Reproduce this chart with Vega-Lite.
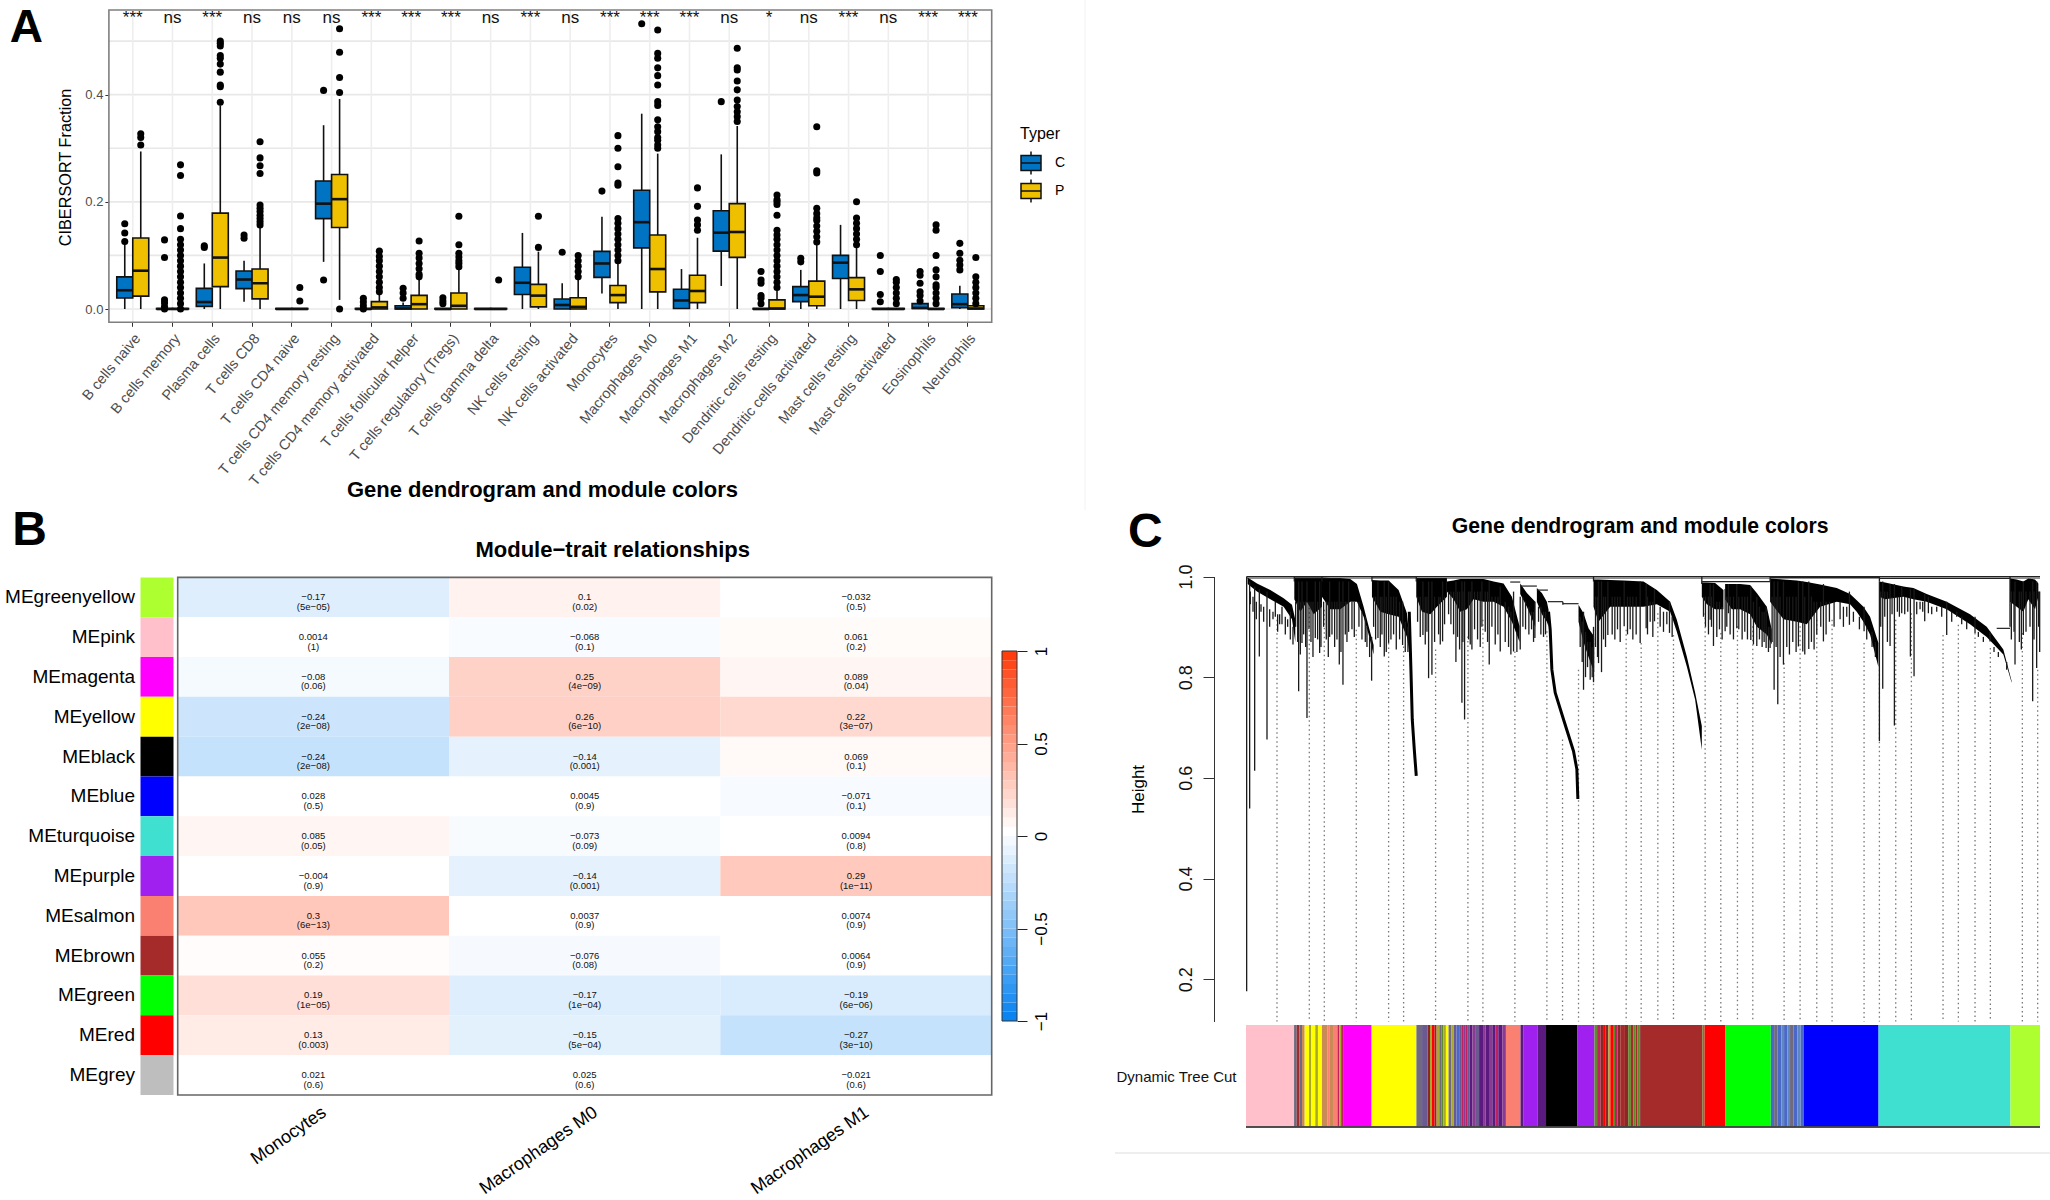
{"$schema":"https://vega.github.io/schema/vega-lite/v6.json","width":2050,"height":1200,"padding":0,"autosize":{"type":"none"},"background":"white","config":{"view":{"stroke":null},"font":"Liberation Sans","axis":{"grid":false}},
"datasets":{
"cells":[{"cell":"B cells naive","sig":"***"},{"cell":"B cells memory","sig":"ns"},{"cell":"Plasma cells","sig":"***"},{"cell":"T cells CD8","sig":"ns"},{"cell":"T cells CD4 naive","sig":"ns"},{"cell":"T cells CD4 memory resting","sig":"ns"},{"cell":"T cells CD4 memory activated","sig":"***"},{"cell":"T cells follicular helper","sig":"***"},{"cell":"T cells regulatory (Tregs)","sig":"***"},{"cell":"T cells gamma delta","sig":"ns"},{"cell":"NK cells resting","sig":"***"},{"cell":"NK cells activated","sig":"ns"},{"cell":"Monocytes","sig":"***"},{"cell":"Macrophages M0","sig":"***"},{"cell":"Macrophages M1","sig":"***"},{"cell":"Macrophages M2","sig":"ns"},{"cell":"Dendritic cells resting","sig":"*"},{"cell":"Dendritic cells activated","sig":"ns"},{"cell":"Mast cells resting","sig":"***"},{"cell":"Mast cells activated","sig":"ns"},{"cell":"Eosinophils","sig":"***"},{"cell":"Neutrophils","sig":"***"}],
"boxes":[
{"cell":"B cells naive","typer":"C","lo":0,"q1":0.0205,"med":0.035,"q3":0.06,"hi":0.1225},{"cell":"B cells naive","typer":"P","lo":0,"q1":0.024,"med":0.0715,"q3":0.1325,"hi":0.294},
{"cell":"B cells memory","typer":"C","lo":0,"q1":0,"med":0,"q3":0.001,"hi":0.001},{"cell":"B cells memory","typer":"P","lo":0,"q1":0,"med":0,"q3":0.001,"hi":0.001},
{"cell":"Plasma cells","typer":"C","lo":0,"q1":0.005,"med":0.013,"q3":0.0386,"hi":0.085},{"cell":"Plasma cells","typer":"P","lo":0,"q1":0.0417,"med":0.096,"q3":0.179,"hi":0.38},
{"cell":"T cells CD8","typer":"C","lo":0.0137,"q1":0.038,"med":0.055,"q3":0.071,"hi":0.09},{"cell":"T cells CD8","typer":"P","lo":0,"q1":0.019,"med":0.048,"q3":0.0746,"hi":0.154},
{"cell":"T cells CD4 naive","typer":"C","lo":0,"q1":0,"med":0,"q3":0.001,"hi":0.001},{"cell":"T cells CD4 naive","typer":"P","lo":0,"q1":0,"med":0,"q3":0.001,"hi":0.001},
{"cell":"T cells CD4 memory resting","typer":"C","lo":0.088,"q1":0.1686,"med":0.1966,"q3":0.239,"hi":0.343},{"cell":"T cells CD4 memory resting","typer":"P","lo":0.017,"q1":0.152,"med":0.205,"q3":0.251,"hi":0.392},
{"cell":"T cells CD4 memory activated","typer":"C","lo":0,"q1":0,"med":0,"q3":0.001,"hi":0.001},{"cell":"T cells CD4 memory activated","typer":"P","lo":0,"q1":0,"med":0.003,"q3":0.0137,"hi":0.029},
{"cell":"T cells follicular helper","typer":"C","lo":0,"q1":0,"med":0.001,"q3":0.006,"hi":0.012},{"cell":"T cells follicular helper","typer":"P","lo":0,"q1":0,"med":0.009,"q3":0.0255,"hi":0.057},
{"cell":"T cells regulatory (Tregs)","typer":"C","lo":0,"q1":0,"med":0,"q3":0.001,"hi":0.001},{"cell":"T cells regulatory (Tregs)","typer":"P","lo":0,"q1":0,"med":0.006,"q3":0.03,"hi":0.073},
{"cell":"T cells gamma delta","typer":"C","lo":0,"q1":0,"med":0,"q3":0.001,"hi":0.001},{"cell":"T cells gamma delta","typer":"P","lo":0,"q1":0,"med":0,"q3":0.001,"hi":0.001},
{"cell":"NK cells resting","typer":"C","lo":0,"q1":0.027,"med":0.049,"q3":0.078,"hi":0.142},{"cell":"NK cells resting","typer":"P","lo":0,"q1":0.004,"med":0.025,"q3":0.046,"hi":0.107},
{"cell":"NK cells activated","typer":"C","lo":0,"q1":0,"med":0.0075,"q3":0.0187,"hi":0.048},{"cell":"NK cells activated","typer":"P","lo":0,"q1":0,"med":0.004,"q3":0.021,"hi":0.054},
{"cell":"Monocytes","typer":"C","lo":0.029,"q1":0.059,"med":0.085,"q3":0.1076,"hi":0.172},{"cell":"Monocytes","typer":"P","lo":0,"q1":0.012,"med":0.026,"q3":0.044,"hi":0.085},
{"cell":"Macrophages M0","typer":"C","lo":0,"q1":0.114,"med":0.162,"q3":0.2215,"hi":0.3645},{"cell":"Macrophages M0","typer":"P","lo":0,"q1":0.032,"med":0.0746,"q3":0.138,"hi":0.29},
{"cell":"Macrophages M1","typer":"C","lo":0,"q1":0.001,"med":0.016,"q3":0.037,"hi":0.0746},{"cell":"Macrophages M1","typer":"P","lo":0,"q1":0.012,"med":0.0336,"q3":0.063,"hi":0.133},
{"cell":"Macrophages M2","typer":"C","lo":0.043,"q1":0.108,"med":0.1425,"q3":0.1835,"hi":0.2886},{"cell":"Macrophages M2","typer":"P","lo":0,"q1":0.0964,"med":0.1437,"q3":0.1966,"hi":0.3415},
{"cell":"Dendritic cells resting","typer":"C","lo":0,"q1":0,"med":0,"q3":0.001,"hi":0.001},{"cell":"Dendritic cells resting","typer":"P","lo":0,"q1":0,"med":0.001,"q3":0.017,"hi":0.035},
{"cell":"Dendritic cells activated","typer":"C","lo":0,"q1":0.0137,"med":0.026,"q3":0.0417,"hi":0.073},{"cell":"Dendritic cells activated","typer":"P","lo":0,"q1":0.006,"med":0.023,"q3":0.052,"hi":0.1225},
{"cell":"Mast cells resting","typer":"C","lo":0,"q1":0.057,"med":0.0865,"q3":0.1,"hi":0.157},{"cell":"Mast cells resting","typer":"P","lo":0,"q1":0.016,"med":0.0367,"q3":0.0585,"hi":0.116},
{"cell":"Mast cells activated","typer":"C","lo":0,"q1":0,"med":0,"q3":0.001,"hi":0.001},{"cell":"Mast cells activated","typer":"P","lo":0,"q1":0,"med":0,"q3":0.001,"hi":0.001},
{"cell":"Eosinophils","typer":"C","lo":0,"q1":0.001,"med":0.002,"q3":0.01,"hi":0.012},{"cell":"Eosinophils","typer":"P","lo":0,"q1":0,"med":0,"q3":0.001,"hi":0.001},
{"cell":"Neutrophils","typer":"C","lo":0,"q1":0.0025,"med":0.009,"q3":0.028,"hi":0.0435},{"cell":"Neutrophils","typer":"P","lo":0,"q1":0,"med":0.001,"q3":0.006,"hi":0.008}],
"outliers":[
{"cell":"B cells naive","typer":"C","value":0.126},{"cell":"B cells naive","typer":"C","value":0.142},{"cell":"B cells naive","typer":"C","value":0.159},{"cell":"B cells naive","typer":"P","value":0.306},{"cell":"B cells naive","typer":"P","value":0.32},{"cell":"B cells naive","typer":"P","value":0.327},
{"cell":"B cells memory","typer":"C","value":0.129},{"cell":"B cells memory","typer":"C","value":0.096},{"cell":"B cells memory","typer":"C","value":0.017},{"cell":"B cells memory","typer":"C","value":0.011},{"cell":"B cells memory","typer":"C","value":0.004},{"cell":"B cells memory","typer":"C","value":0},
{"cell":"B cells memory","typer":"P","value":0.269},{"cell":"B cells memory","typer":"P","value":0.249},{"cell":"B cells memory","typer":"P","value":0.1735},{"cell":"B cells memory","typer":"P","value":0.15},{"cell":"B cells memory","typer":"P","value":0.13},{"cell":"B cells memory","typer":"P","value":0.12},{"cell":"B cells memory","typer":"P","value":0.11},{"cell":"B cells memory","typer":"P","value":0.1},{"cell":"B cells memory","typer":"P","value":0.09},{"cell":"B cells memory","typer":"P","value":0.08},{"cell":"B cells memory","typer":"P","value":0.07},{"cell":"B cells memory","typer":"P","value":0.06},{"cell":"B cells memory","typer":"P","value":0.05},{"cell":"B cells memory","typer":"P","value":0.04},{"cell":"B cells memory","typer":"P","value":0.03},{"cell":"B cells memory","typer":"P","value":0.02},{"cell":"B cells memory","typer":"P","value":0.01},{"cell":"B cells memory","typer":"P","value":0},
{"cell":"Plasma cells","typer":"C","value":0.115},{"cell":"Plasma cells","typer":"C","value":0.118},{"cell":"Plasma cells","typer":"P","value":0.386},{"cell":"Plasma cells","typer":"P","value":0.415},{"cell":"Plasma cells","typer":"P","value":0.418},{"cell":"Plasma cells","typer":"P","value":0.442},{"cell":"Plasma cells","typer":"P","value":0.457},{"cell":"Plasma cells","typer":"P","value":0.468},{"cell":"Plasma cells","typer":"P","value":0.473},{"cell":"Plasma cells","typer":"P","value":0.491},{"cell":"Plasma cells","typer":"P","value":0.496},{"cell":"Plasma cells","typer":"P","value":0.5},
{"cell":"T cells CD8","typer":"C","value":0.132},{"cell":"T cells CD8","typer":"C","value":0.138},{"cell":"T cells CD8","typer":"P","value":0.157},{"cell":"T cells CD8","typer":"P","value":0.163},{"cell":"T cells CD8","typer":"P","value":0.169},{"cell":"T cells CD8","typer":"P","value":0.175},{"cell":"T cells CD8","typer":"P","value":0.182},{"cell":"T cells CD8","typer":"P","value":0.188},{"cell":"T cells CD8","typer":"P","value":0.194},{"cell":"T cells CD8","typer":"P","value":0.253},{"cell":"T cells CD8","typer":"P","value":0.2675},{"cell":"T cells CD8","typer":"P","value":0.282},{"cell":"T cells CD8","typer":"P","value":0.312},
{"cell":"T cells CD4 naive","typer":"P","value":0.015},{"cell":"T cells CD4 naive","typer":"P","value":0.04},
{"cell":"T cells CD4 memory resting","typer":"C","value":0.054},{"cell":"T cells CD4 memory resting","typer":"C","value":0.408},{"cell":"T cells CD4 memory resting","typer":"P","value":0},{"cell":"T cells CD4 memory resting","typer":"P","value":0.404},{"cell":"T cells CD4 memory resting","typer":"P","value":0.432},{"cell":"T cells CD4 memory resting","typer":"P","value":0.479},{"cell":"T cells CD4 memory resting","typer":"P","value":0.523},
{"cell":"T cells CD4 memory activated","typer":"C","value":0.02},{"cell":"T cells CD4 memory activated","typer":"C","value":0.013},{"cell":"T cells CD4 memory activated","typer":"C","value":0.006},{"cell":"T cells CD4 memory activated","typer":"C","value":0},{"cell":"T cells CD4 memory activated","typer":"P","value":0.108},{"cell":"T cells CD4 memory activated","typer":"P","value":0.098},{"cell":"T cells CD4 memory activated","typer":"P","value":0.09},{"cell":"T cells CD4 memory activated","typer":"P","value":0.08},{"cell":"T cells CD4 memory activated","typer":"P","value":0.07},{"cell":"T cells CD4 memory activated","typer":"P","value":0.06},{"cell":"T cells CD4 memory activated","typer":"P","value":0.05},{"cell":"T cells CD4 memory activated","typer":"P","value":0.04},{"cell":"T cells CD4 memory activated","typer":"P","value":0.032},
{"cell":"T cells follicular helper","typer":"C","value":0.0386},{"cell":"T cells follicular helper","typer":"C","value":0.03},{"cell":"T cells follicular helper","typer":"C","value":0.02},{"cell":"T cells follicular helper","typer":"P","value":0.127},{"cell":"T cells follicular helper","typer":"P","value":0.104},{"cell":"T cells follicular helper","typer":"P","value":0.095},{"cell":"T cells follicular helper","typer":"P","value":0.085},{"cell":"T cells follicular helper","typer":"P","value":0.075},{"cell":"T cells follicular helper","typer":"P","value":0.065},{"cell":"T cells follicular helper","typer":"P","value":0.06},
{"cell":"T cells regulatory (Tregs)","typer":"C","value":0.021},{"cell":"T cells regulatory (Tregs)","typer":"C","value":0.015},{"cell":"T cells regulatory (Tregs)","typer":"C","value":0.01},{"cell":"T cells regulatory (Tregs)","typer":"P","value":0.173},{"cell":"T cells regulatory (Tregs)","typer":"P","value":0.12},{"cell":"T cells regulatory (Tregs)","typer":"P","value":0.104},{"cell":"T cells regulatory (Tregs)","typer":"P","value":0.097},{"cell":"T cells regulatory (Tregs)","typer":"P","value":0.09},{"cell":"T cells regulatory (Tregs)","typer":"P","value":0.085},{"cell":"T cells regulatory (Tregs)","typer":"P","value":0.079},
{"cell":"T cells gamma delta","typer":"P","value":0.054},{"cell":"NK cells resting","typer":"P","value":0.115},{"cell":"NK cells resting","typer":"P","value":0.173},
{"cell":"NK cells activated","typer":"C","value":0.106},{"cell":"NK cells activated","typer":"P","value":0.1},{"cell":"NK cells activated","typer":"P","value":0.09},{"cell":"NK cells activated","typer":"P","value":0.08},{"cell":"NK cells activated","typer":"P","value":0.07},{"cell":"NK cells activated","typer":"P","value":0.06},
{"cell":"Monocytes","typer":"C","value":0.22},{"cell":"Monocytes","typer":"P","value":0.09},{"cell":"Monocytes","typer":"P","value":0.1},{"cell":"Monocytes","typer":"P","value":0.11},{"cell":"Monocytes","typer":"P","value":0.12},{"cell":"Monocytes","typer":"P","value":0.13},{"cell":"Monocytes","typer":"P","value":0.14},{"cell":"Monocytes","typer":"P","value":0.15},{"cell":"Monocytes","typer":"P","value":0.16},{"cell":"Monocytes","typer":"P","value":0.169},{"cell":"Monocytes","typer":"P","value":0.231},{"cell":"Monocytes","typer":"P","value":0.235},{"cell":"Monocytes","typer":"P","value":0.2656},{"cell":"Monocytes","typer":"P","value":0.3},{"cell":"Monocytes","typer":"P","value":0.3235},
{"cell":"Macrophages M0","typer":"C","value":0.5325},{"cell":"Macrophages M0","typer":"P","value":0.3},{"cell":"Macrophages M0","typer":"P","value":0.306},{"cell":"Macrophages M0","typer":"P","value":0.315},{"cell":"Macrophages M0","typer":"P","value":0.32},{"cell":"Macrophages M0","typer":"P","value":0.331},{"cell":"Macrophages M0","typer":"P","value":0.34},{"cell":"Macrophages M0","typer":"P","value":0.353},{"cell":"Macrophages M0","typer":"P","value":0.38},{"cell":"Macrophages M0","typer":"P","value":0.387},{"cell":"Macrophages M0","typer":"P","value":0.418},{"cell":"Macrophages M0","typer":"P","value":0.4355},{"cell":"Macrophages M0","typer":"P","value":0.45},{"cell":"Macrophages M0","typer":"P","value":0.468},{"cell":"Macrophages M0","typer":"P","value":0.477},{"cell":"Macrophages M0","typer":"P","value":0.5207},
{"cell":"Macrophages M1","typer":"P","value":0.147},{"cell":"Macrophages M1","typer":"P","value":0.157},{"cell":"Macrophages M1","typer":"P","value":0.166},{"cell":"Macrophages M1","typer":"P","value":0.1916},{"cell":"Macrophages M1","typer":"P","value":0.226},
{"cell":"Macrophages M2","typer":"C","value":0.387},{"cell":"Macrophages M2","typer":"P","value":0.35},{"cell":"Macrophages M2","typer":"P","value":0.359},{"cell":"Macrophages M2","typer":"P","value":0.368},{"cell":"Macrophages M2","typer":"P","value":0.378},{"cell":"Macrophages M2","typer":"P","value":0.39},{"cell":"Macrophages M2","typer":"P","value":0.409},{"cell":"Macrophages M2","typer":"P","value":0.4255},{"cell":"Macrophages M2","typer":"P","value":0.446},{"cell":"Macrophages M2","typer":"P","value":0.45},{"cell":"Macrophages M2","typer":"P","value":0.4865},
{"cell":"Dendritic cells resting","typer":"C","value":0.01},{"cell":"Dendritic cells resting","typer":"C","value":0.02},{"cell":"Dendritic cells resting","typer":"C","value":0.025},{"cell":"Dendritic cells resting","typer":"C","value":0.048},{"cell":"Dendritic cells resting","typer":"C","value":0.054},{"cell":"Dendritic cells resting","typer":"C","value":0.07},
{"cell":"Dendritic cells resting","typer":"P","value":0.04},{"cell":"Dendritic cells resting","typer":"P","value":0.05},{"cell":"Dendritic cells resting","typer":"P","value":0.06},{"cell":"Dendritic cells resting","typer":"P","value":0.07},{"cell":"Dendritic cells resting","typer":"P","value":0.08},{"cell":"Dendritic cells resting","typer":"P","value":0.09},{"cell":"Dendritic cells resting","typer":"P","value":0.1},{"cell":"Dendritic cells resting","typer":"P","value":0.11},{"cell":"Dendritic cells resting","typer":"P","value":0.12},{"cell":"Dendritic cells resting","typer":"P","value":0.13},{"cell":"Dendritic cells resting","typer":"P","value":0.138},{"cell":"Dendritic cells resting","typer":"P","value":0.147},{"cell":"Dendritic cells resting","typer":"P","value":0.175},{"cell":"Dendritic cells resting","typer":"P","value":0.195},{"cell":"Dendritic cells resting","typer":"P","value":0.2},{"cell":"Dendritic cells resting","typer":"P","value":0.204},{"cell":"Dendritic cells resting","typer":"P","value":0.2127},
{"cell":"Dendritic cells activated","typer":"C","value":0.088},{"cell":"Dendritic cells activated","typer":"C","value":0.0945},{"cell":"Dendritic cells activated","typer":"P","value":0.125},{"cell":"Dendritic cells activated","typer":"P","value":0.135},{"cell":"Dendritic cells activated","typer":"P","value":0.145},{"cell":"Dendritic cells activated","typer":"P","value":0.155},{"cell":"Dendritic cells activated","typer":"P","value":0.165},{"cell":"Dendritic cells activated","typer":"P","value":0.17},{"cell":"Dendritic cells activated","typer":"P","value":0.178},{"cell":"Dendritic cells activated","typer":"P","value":0.188},{"cell":"Dendritic cells activated","typer":"P","value":0.254},{"cell":"Dendritic cells activated","typer":"P","value":0.258},{"cell":"Dendritic cells activated","typer":"P","value":0.34},
{"cell":"Mast cells resting","typer":"P","value":0.12},{"cell":"Mast cells resting","typer":"P","value":0.13},{"cell":"Mast cells resting","typer":"P","value":0.14},{"cell":"Mast cells resting","typer":"P","value":0.15},{"cell":"Mast cells resting","typer":"P","value":0.16},{"cell":"Mast cells resting","typer":"P","value":0.17},{"cell":"Mast cells resting","typer":"P","value":0.2},
{"cell":"Mast cells activated","typer":"C","value":0.0137},{"cell":"Mast cells activated","typer":"C","value":0.027},{"cell":"Mast cells activated","typer":"C","value":0.07},{"cell":"Mast cells activated","typer":"C","value":0.1},{"cell":"Mast cells activated","typer":"P","value":0.01},{"cell":"Mast cells activated","typer":"P","value":0.02},{"cell":"Mast cells activated","typer":"P","value":0.03},{"cell":"Mast cells activated","typer":"P","value":0.04},{"cell":"Mast cells activated","typer":"P","value":0.05},{"cell":"Mast cells activated","typer":"P","value":0.055},
{"cell":"Eosinophils","typer":"C","value":0.015},{"cell":"Eosinophils","typer":"C","value":0.025},{"cell":"Eosinophils","typer":"C","value":0.032},{"cell":"Eosinophils","typer":"C","value":0.048},{"cell":"Eosinophils","typer":"C","value":0.063},{"cell":"Eosinophils","typer":"C","value":0.07},{"cell":"Eosinophils","typer":"P","value":0.01},{"cell":"Eosinophils","typer":"P","value":0.02},{"cell":"Eosinophils","typer":"P","value":0.03},{"cell":"Eosinophils","typer":"P","value":0.04},{"cell":"Eosinophils","typer":"P","value":0.045},{"cell":"Eosinophils","typer":"P","value":0.06},{"cell":"Eosinophils","typer":"P","value":0.073},{"cell":"Eosinophils","typer":"P","value":0.1},{"cell":"Eosinophils","typer":"P","value":0.147},{"cell":"Eosinophils","typer":"P","value":0.157},
{"cell":"Neutrophils","typer":"C","value":0.073},{"cell":"Neutrophils","typer":"C","value":0.082},{"cell":"Neutrophils","typer":"C","value":0.091},{"cell":"Neutrophils","typer":"C","value":0.104},{"cell":"Neutrophils","typer":"C","value":0.1225},{"cell":"Neutrophils","typer":"P","value":0.01},{"cell":"Neutrophils","typer":"P","value":0.02},{"cell":"Neutrophils","typer":"P","value":0.03},{"cell":"Neutrophils","typer":"P","value":0.04},{"cell":"Neutrophils","typer":"P","value":0.05},{"cell":"Neutrophils","typer":"P","value":0.06},{"cell":"Neutrophils","typer":"P","value":0.096}],
"heat":[
{"module":"MEgreenyellow","trait":"Monocytes","corr":-0.17,"label":"−0.17\n(5e−05)"},{"module":"MEgreenyellow","trait":"Macrophages M0","corr":0.1,"label":"0.1\n(0.02)"},{"module":"MEgreenyellow","trait":"Macrophages M1","corr":-0.032,"label":"−0.032\n(0.5)"},
{"module":"MEpink","trait":"Monocytes","corr":0.0014,"label":"0.0014\n(1)"},{"module":"MEpink","trait":"Macrophages M0","corr":-0.068,"label":"−0.068\n(0.1)"},{"module":"MEpink","trait":"Macrophages M1","corr":0.061,"label":"0.061\n(0.2)"},
{"module":"MEmagenta","trait":"Monocytes","corr":-0.08,"label":"−0.08\n(0.06)"},{"module":"MEmagenta","trait":"Macrophages M0","corr":0.25,"label":"0.25\n(4e−09)"},{"module":"MEmagenta","trait":"Macrophages M1","corr":0.089,"label":"0.089\n(0.04)"},
{"module":"MEyellow","trait":"Monocytes","corr":-0.24,"label":"−0.24\n(2e−08)"},{"module":"MEyellow","trait":"Macrophages M0","corr":0.26,"label":"0.26\n(6e−10)"},{"module":"MEyellow","trait":"Macrophages M1","corr":0.22,"label":"0.22\n(3e−07)"},
{"module":"MEblack","trait":"Monocytes","corr":-0.27,"label":"−0.24\n(2e−08)"},{"module":"MEblack","trait":"Macrophages M0","corr":-0.14,"label":"−0.14\n(0.001)"},{"module":"MEblack","trait":"Macrophages M1","corr":0.069,"label":"0.069\n(0.1)"},
{"module":"MEblue","trait":"Monocytes","corr":0.028,"label":"0.028\n(0.5)"},{"module":"MEblue","trait":"Macrophages M0","corr":0.0045,"label":"0.0045\n(0.9)"},{"module":"MEblue","trait":"Macrophages M1","corr":-0.071,"label":"−0.071\n(0.1)"},
{"module":"MEturquoise","trait":"Monocytes","corr":0.085,"label":"0.085\n(0.05)"},{"module":"MEturquoise","trait":"Macrophages M0","corr":-0.073,"label":"−0.073\n(0.09)"},{"module":"MEturquoise","trait":"Macrophages M1","corr":0.0094,"label":"0.0094\n(0.8)"},
{"module":"MEpurple","trait":"Monocytes","corr":-0.004,"label":"−0.004\n(0.9)"},{"module":"MEpurple","trait":"Macrophages M0","corr":-0.14,"label":"−0.14\n(0.001)"},{"module":"MEpurple","trait":"Macrophages M1","corr":0.29,"label":"0.29\n(1e−11)"},
{"module":"MEsalmon","trait":"Monocytes","corr":0.3,"label":"0.3\n(6e−13)"},{"module":"MEsalmon","trait":"Macrophages M0","corr":0.0037,"label":"0.0037\n(0.9)"},{"module":"MEsalmon","trait":"Macrophages M1","corr":0.0074,"label":"0.0074\n(0.9)"},
{"module":"MEbrown","trait":"Monocytes","corr":0.055,"label":"0.055\n(0.2)"},{"module":"MEbrown","trait":"Macrophages M0","corr":-0.076,"label":"−0.076\n(0.08)"},{"module":"MEbrown","trait":"Macrophages M1","corr":0.0064,"label":"0.0064\n(0.9)"},
{"module":"MEgreen","trait":"Monocytes","corr":0.19,"label":"0.19\n(1e−05)"},{"module":"MEgreen","trait":"Macrophages M0","corr":-0.17,"label":"−0.17\n(1e−04)"},{"module":"MEgreen","trait":"Macrophages M1","corr":-0.19,"label":"−0.19\n(6e−06)"},
{"module":"MEred","trait":"Monocytes","corr":0.13,"label":"0.13\n(0.003)"},{"module":"MEred","trait":"Macrophages M0","corr":-0.15,"label":"−0.15\n(5e−04)"},{"module":"MEred","trait":"Macrophages M1","corr":-0.27,"label":"−0.27\n(3e−10)"},
{"module":"MEgrey","trait":"Monocytes","corr":0.021,"label":"0.021\n(0.6)"},{"module":"MEgrey","trait":"Macrophages M0","corr":0.025,"label":"0.025\n(0.6)"},{"module":"MEgrey","trait":"Macrophages M1","corr":-0.021,"label":"−0.021\n(0.6)"}],
"modules":[{"module":"MEgreenyellow"},{"module":"MEpink"},{"module":"MEmagenta"},{"module":"MEyellow"},{"module":"MEblack"},{"module":"MEblue"},{"module":"MEturquoise"},{"module":"MEpurple"},{"module":"MEsalmon"},{"module":"MEbrown"},{"module":"MEgreen"},{"module":"MEred"},{"module":"MEgrey"}],
"bar":[{"lo":-1,"hi":-0.95},{"lo":-0.95,"hi":-0.9},{"lo":-0.9,"hi":-0.85},{"lo":-0.85,"hi":-0.8},{"lo":-0.8,"hi":-0.75},{"lo":-0.75,"hi":-0.7},{"lo":-0.7,"hi":-0.65},{"lo":-0.65,"hi":-0.6},{"lo":-0.6,"hi":-0.55},{"lo":-0.55,"hi":-0.5},{"lo":-0.5,"hi":-0.45},{"lo":-0.45,"hi":-0.4},{"lo":-0.4,"hi":-0.35},{"lo":-0.35,"hi":-0.3},{"lo":-0.3,"hi":-0.25},{"lo":-0.25,"hi":-0.2},{"lo":-0.2,"hi":-0.15},{"lo":-0.15,"hi":-0.1},{"lo":-0.1,"hi":-0.05},{"lo":-0.05,"hi":0},{"lo":0,"hi":0.05},{"lo":0.05,"hi":0.1},{"lo":0.1,"hi":0.15},{"lo":0.15,"hi":0.2},{"lo":0.2,"hi":0.25},{"lo":0.25,"hi":0.3},{"lo":0.3,"hi":0.35},{"lo":0.35,"hi":0.4},{"lo":0.4,"hi":0.45},{"lo":0.45,"hi":0.5},{"lo":0.5,"hi":0.55},{"lo":0.55,"hi":0.6},{"lo":0.6,"hi":0.65},{"lo":0.65,"hi":0.7},{"lo":0.7,"hi":0.75},{"lo":0.75,"hi":0.8},{"lo":0.8,"hi":0.85},{"lo":0.85,"hi":0.9},{"lo":0.9,"hi":0.95},{"lo":0.95,"hi":1}],
"clusters":[
{"c":"a1","g":22,"t":0.998,"b":0.985},{"c":"a1","g":50,"t":0.986,"b":0.97},{"c":"a1","g":90,"t":0.973,"b":0.955},{"c":"a1","g":130,"t":0.957,"b":0.94},{"c":"a1","g":155,"t":0.944,"b":0.915},{"c":"a1","g":165,"t":0.914,"b":0.87},
{"c":"a2","g":162,"t":0.998,"b":0.955},{"c":"a2","g":180,"t":0.998,"b":0.93},{"c":"a2","g":200,"t":0.998,"b":0.95},{"c":"a2","g":220,"t":0.998,"b":0.925},{"c":"a2","g":245,"t":0.998,"b":0.94},
{"c":"a3","g":245,"t":0.998,"b":0.96},{"c":"a3","g":270,"t":0.997,"b":0.935},{"c":"a3","g":300,"t":0.997,"b":0.935},{"c":"a3","g":330,"t":0.995,"b":0.95},{"c":"a3","g":350,"t":0.985,"b":0.95},{"c":"a3","g":370,"t":0.94,"b":0.92},{"c":"a3","g":385,"t":0.901,"b":0.885},{"c":"a3","g":400,"t":0.864,"b":0.845},
{"c":"a4","g":395,"t":0.993,"b":0.96},{"c":"a4","g":420,"t":0.992,"b":0.93},{"c":"a4","g":445,"t":0.992,"b":0.925},{"c":"a4","g":475,"t":0.973,"b":0.92},{"c":"a4","g":500,"t":0.927,"b":0.88},{"c":"a4","g":510,"t":0.861,"b":0.84},
{"c":"a5","g":528,"t":0.997,"b":0.96},{"c":"a5","g":545,"t":0.997,"b":0.93},{"c":"a5","g":570,"t":0.997,"b":0.925},{"c":"a5","g":590,"t":0.997,"b":0.94},{"c":"a5","g":620,"t":0.997,"b":0.96},
{"c":"a6","g":620,"t":0.99,"b":0.97},{"c":"a6","g":640,"t":0.992,"b":0.955},{"c":"a6","g":660,"t":0.995,"b":0.93},{"c":"a6","g":680,"t":0.995,"b":0.935},{"c":"a6","g":700,"t":0.995,"b":0.955},{"c":"a6","g":730,"t":0.995,"b":0.95},{"c":"a6","g":760,"t":0.99,"b":0.95},{"c":"a6","g":790,"t":0.986,"b":0.94},{"c":"a6","g":815,"t":0.96,"b":0.91},{"c":"a6","g":838,"t":0.901,"b":0.87},
{"c":"a7","g":840,"t":0.986,"b":0.965},{"c":"a7","g":860,"t":0.967,"b":0.94},{"c":"a7","g":885,"t":0.95,"b":0.9},
{"c":"a8","g":890,"t":0.977,"b":0.95},{"c":"a8","g":905,"t":0.967,"b":0.925},{"c":"a8","g":920,"t":0.95,"b":0.91},{"c":"a8","g":925,"t":0.934,"b":0.9},
{"c":"a9","g":1015,"t":0.944,"b":0.91},{"c":"a9","g":1030,"t":0.927,"b":0.87},{"c":"a9","g":1045,"t":0.897,"b":0.84},{"c":"a9","g":1062,"t":0.881,"b":0.81},
{"c":"a10","g":1060,"t":0.994,"b":0.94},{"c":"a10","g":1075,"t":0.994,"b":0.91},{"c":"a10","g":1110,"t":0.993,"b":0.94},{"c":"a10","g":1150,"t":0.992,"b":0.94},{"c":"a10","g":1210,"t":0.99,"b":0.94},{"c":"a10","g":1250,"t":0.973,"b":0.945},{"c":"a10","g":1290,"t":0.95,"b":0.93},{"c":"a10","g":1310,"t":0.914,"b":0.89},{"c":"a10","g":1340,"t":0.841,"b":0.821},{"c":"a10","g":1365,"t":0.769,"b":0.755},{"c":"a10","g":1385,"t":0.703,"b":0.656},
{"c":"a11","g":1385,"t":0.988,"b":0.96},{"c":"a11","g":1400,"t":0.988,"b":0.945},{"c":"a11","g":1425,"t":0.987,"b":0.935},{"c":"a11","g":1450,"t":0.973,"b":0.935},
{"c":"a12","g":1455,"t":0.985,"b":0.955},{"c":"a12","g":1475,"t":0.985,"b":0.935},{"c":"a12","g":1500,"t":0.985,"b":0.935},{"c":"a12","g":1530,"t":0.983,"b":0.925},{"c":"a12","g":1550,"t":0.967,"b":0.9},{"c":"a12","g":1580,"t":0.94,"b":0.885},{"c":"a12","g":1595,"t":0.894,"b":0.865},
{"c":"a13","g":1590,"t":0.996,"b":0.95},{"c":"a13","g":1630,"t":0.994,"b":0.915},{"c":"a13","g":1670,"t":0.992,"b":0.91},{"c":"a13","g":1700,"t":0.989,"b":0.905},{"c":"a13","g":1740,"t":0.984,"b":0.94},{"c":"a13","g":1790,"t":0.977,"b":0.95},{"c":"a13","g":1830,"t":0.965,"b":0.945},{"c":"a13","g":1850,"t":0.953,"b":0.93},{"c":"a13","g":1870,"t":0.94,"b":0.91},{"c":"a13","g":1890,"t":0.92,"b":0.885},{"c":"a13","g":1915,"t":0.868,"b":0.82},
{"c":"a14","g":1918,"t":0.99,"b":0.96},{"c":"a14","g":1935,"t":0.988,"b":0.955},{"c":"a14","g":1990,"t":0.98,"b":0.96},{"c":"a14","g":2020,"t":0.977,"b":0.955},{"c":"a14","g":2060,"t":0.965,"b":0.95},{"c":"a14","g":2120,"t":0.95,"b":0.935},{"c":"a14","g":2190,"t":0.925,"b":0.905},{"c":"a14","g":2240,"t":0.9,"b":0.88},{"c":"a14","g":2290,"t":0.855,"b":0.845},{"c":"a14","g":2315,"t":0.792,"b":0.789},
{"c":"a15","g":2310,"t":0.996,"b":0.95},{"c":"a15","g":2330,"t":0.994,"b":0.94},{"c":"a15","g":2350,"t":0.99,"b":0.93},{"c":"a15","g":2365,"t":0.996,"b":0.955},{"c":"a15","g":2385,"t":0.994,"b":0.935},{"c":"a15","g":2395,"t":0.986,"b":0.96}],
"tails":[{"c":"t1","g":507,"h":0.93},{"c":"t1","g":512,"h":0.815},{"c":"t1","g":516,"h":0.716},{"c":"t1","g":522,"h":0.657},{"c":"t1","g":528,"h":0.604},{"c":"t2","g":925,"h":0.93},{"c":"t2","g":930,"h":0.894},{"c":"t2","g":935,"h":0.815},{"c":"t2","g":945,"h":0.769},{"c":"t2","g":970,"h":0.716},{"c":"t2","g":1000,"h":0.653},{"c":"t2","g":1010,"h":0.617},{"c":"t2","g":1013,"h":0.558}],
"spikes":[{"g":19,"t":0.999,"b":0.176},{"g":28,"t":0.99,"b":0.539},{"g":43,"t":0.98,"b":0.614},{"g":57,"t":0.975,"b":0.841},{"g":80,"t":0.97,"b":0.676},{"g":105,"t":0.95,"b":0.92},{"g":125,"t":0.94,"b":0.905},{"g":150,"t":0.93,"b":0.875},{"g":175,"t":0.99,"b":0.772},{"g":200,"t":0.99,"b":0.719},{"g":238,"t":0.99,"b":0.848},{"g":225,"t":0.99,"b":0.878},{"g":185,"t":0.99,"b":0.868},{"g":268,"t":0.99,"b":0.88},{"g":297,"t":0.99,"b":0.825},{"g":308,"t":0.99,"b":0.785},{"g":325,"t":0.99,"b":0.89},{"g":394,"t":0.88,"b":0.793},{"g":413,"t":0.99,"b":0.878},{"g":432,"t":0.99,"b":0.841},{"g":445,"t":0.99,"b":0.868},{"g":487,"t":0.95,"b":0.864},{"g":548,"t":0.99,"b":0.884},{"g":565,"t":0.99,"b":0.798},{"g":575,"t":0.99,"b":0.805},{"g":607,"t":0.99,"b":0.871},{"g":647,"t":0.99,"b":0.83},{"g":665,"t":0.99,"b":0.749},{"g":673,"t":0.99,"b":0.716},{"g":695,"t":0.99,"b":0.855},{"g":747,"t":0.99,"b":0.825},{"g":780,"t":0.98,"b":0.851},{"g":725,"t":0.99,"b":0.9},{"g":820,"t":0.97,"b":0.851},{"g":840,"t":0.96,"b":0.855},{"g":884,"t":0.95,"b":0.878},{"g":1030,"t":0.93,"b":0.775},{"g":1060,"t":0.9,"b":0.79},{"g":1075,"t":0.99,"b":0.828},{"g":1084,"t":0.99,"b":0.81},{"g":1103,"t":0.99,"b":0.884},{"g":1152,"t":0.99,"b":0.901},{"g":1200,"t":0.99,"b":0.868},{"g":1218,"t":0.985,"b":0.897},{"g":1243,"t":0.975,"b":0.911},{"g":1288,"t":0.95,"b":0.888},{"g":1420,"t":0.985,"b":0.862},{"g":1410,"t":0.985,"b":0.914},{"g":1455,"t":0.975,"b":0.891},{"g":1465,"t":0.985,"b":0.927},{"g":1490,"t":0.985,"b":0.897},{"g":1532,"t":0.98,"b":0.874},{"g":1550,"t":0.96,"b":0.862},{"g":1578,"t":0.94,"b":0.858},{"g":1590,"t":0.9,"b":0.858},{"g":1602,"t":0.99,"b":0.775},{"g":1613,"t":0.99,"b":0.746},{"g":1630,"t":0.99,"b":0.825},{"g":1675,"t":0.99,"b":0.861},{"g":1688,"t":0.99,"b":0.851},{"g":1706,"t":0.99,"b":0.856},{"g":1750,"t":0.985,"b":0.871},{"g":1828,"t":0.97,"b":0.904},{"g":1872,"t":0.94,"b":0.891},{"g":1918,"t":0.99,"b":0.673},{"g":1928,"t":0.99,"b":0.777},{"g":1950,"t":0.985,"b":0.862},{"g":1963,"t":0.985,"b":0.704},{"g":1985,"t":0.98,"b":0.927},{"g":2011,"t":0.975,"b":0.841},{"g":2022,"t":0.975,"b":0.802},{"g":2054,"t":0.965,"b":0.911},{"g":2065,"t":0.96,"b":0.927},{"g":2120,"t":0.95,"b":0.884},{"g":2205,"t":0.92,"b":0.888},{"g":2250,"t":0.89,"b":0.871},{"g":2325,"t":0.99,"b":0.825},{"g":2350,"t":0.99,"b":0.884},{"g":2378,"t":0.99,"b":0.752},{"g":2390,"t":0.99,"b":0.818},{"g":162,"t":1,"b":0.99},{"g":245,"t":1,"b":0.99},{"g":395,"t":1,"b":0.99},{"g":528,"t":1,"b":0.99},{"g":1060,"t":1,"b":0.99},{"g":1385,"t":1,"b":0.985},{"g":1590,"t":1,"b":0.99},{"g":1918,"t":1,"b":0.99},{"g":2310,"t":1,"b":0.9},{"g":968,"t":0.95,"b":0.944},
{"g":30,"t":0.97,"b":0.945},{"g":38,"t":0.96,"b":0.93},{"g":48,"t":0.95,"b":0.915},{"g":62,"t":0.945,"b":0.93},{"g":70,"t":0.94,"b":0.91},{"g":88,"t":0.935,"b":0.9},{"g":98,"t":0.93,"b":0.915},{"g":112,"t":0.925,"b":0.89},{"g":118,"t":0.925,"b":0.905},{"g":135,"t":0.92,"b":0.885},{"g":142,"t":0.915,"b":0.9},{"g":158,"t":0.9,"b":0.865},
{"g":166,"t":0.95,"b":0.9},{"g":172,"t":0.95,"b":0.87},{"g":180,"t":0.95,"b":0.845},{"g":190,"t":0.95,"b":0.885},{"g":196,"t":0.95,"b":0.86},{"g":206,"t":0.95,"b":0.895},{"g":212,"t":0.95,"b":0.87},{"g":218,"t":0.95,"b":0.84},{"g":232,"t":0.95,"b":0.875},{"g":242,"t":0.95,"b":0.86},
{"g":250,"t":0.95,"b":0.9},{"g":258,"t":0.95,"b":0.875},{"g":264,"t":0.95,"b":0.84},{"g":275,"t":0.95,"b":0.885},{"g":283,"t":0.95,"b":0.86},{"g":290,"t":0.95,"b":0.875},{"g":302,"t":0.95,"b":0.85},{"g":315,"t":0.95,"b":0.885},{"g":320,"t":0.95,"b":0.87},{"g":335,"t":0.95,"b":0.895},{"g":342,"t":0.95,"b":0.88},{"g":356,"t":0.95,"b":0.9},{"g":365,"t":0.93,"b":0.875},{"g":375,"t":0.92,"b":0.87},{"g":380,"t":0.9,"b":0.86},{"g":388,"t":0.88,"b":0.84},
{"g":400,"t":0.96,"b":0.9},{"g":406,"t":0.96,"b":0.875},{"g":420,"t":0.96,"b":0.86},{"g":425,"t":0.96,"b":0.885},{"g":438,"t":0.96,"b":0.85},{"g":452,"t":0.96,"b":0.875},{"g":460,"t":0.96,"b":0.885},{"g":468,"t":0.96,"b":0.855},{"g":478,"t":0.95,"b":0.875},{"g":495,"t":0.91,"b":0.85},{"g":503,"t":0.9,"b":0.85},
{"g":532,"t":0.96,"b":0.91},{"g":540,"t":0.96,"b":0.88},{"g":555,"t":0.96,"b":0.865},{"g":560,"t":0.96,"b":0.89},{"g":583,"t":0.96,"b":0.87},{"g":595,"t":0.96,"b":0.885},{"g":600,"t":0.96,"b":0.865},{"g":613,"t":0.96,"b":0.905},
{"g":625,"t":0.97,"b":0.925},{"g":632,"t":0.97,"b":0.905},{"g":640,"t":0.97,"b":0.885},{"g":652,"t":0.97,"b":0.88},{"g":658,"t":0.97,"b":0.855},{"g":668,"t":0.97,"b":0.87},{"g":685,"t":0.97,"b":0.875},{"g":690,"t":0.97,"b":0.865},{"g":703,"t":0.97,"b":0.895},{"g":712,"t":0.97,"b":0.875},{"g":720,"t":0.97,"b":0.86},{"g":735,"t":0.97,"b":0.89},{"g":742,"t":0.97,"b":0.87},{"g":755,"t":0.96,"b":0.9},{"g":765,"t":0.96,"b":0.865},{"g":773,"t":0.96,"b":0.885},{"g":795,"t":0.95,"b":0.87},{"g":805,"t":0.94,"b":0.86},{"g":812,"t":0.93,"b":0.845},{"g":830,"t":0.89,"b":0.85},
{"g":848,"t":0.96,"b":0.9},{"g":856,"t":0.95,"b":0.895},{"g":866,"t":0.94,"b":0.885},{"g":874,"t":0.93,"b":0.895},{"g":880,"t":0.93,"b":0.87},{"g":895,"t":0.94,"b":0.91},{"g":902,"t":0.94,"b":0.885},{"g":910,"t":0.93,"b":0.88},{"g":916,"t":0.93,"b":0.885},
{"g":1020,"t":0.92,"b":0.86},{"g":1026,"t":0.91,"b":0.83},{"g":1036,"t":0.89,"b":0.8},{"g":1042,"t":0.87,"b":0.82},{"g":1050,"t":0.87,"b":0.795},{"g":1056,"t":0.86,"b":0.8},
{"g":1066,"t":0.96,"b":0.86},{"g":1072,"t":0.96,"b":0.84},{"g":1090,"t":0.96,"b":0.875},{"g":1096,"t":0.96,"b":0.86},{"g":1116,"t":0.96,"b":0.885},{"g":1124,"t":0.96,"b":0.875},{"g":1132,"t":0.96,"b":0.895},{"g":1140,"t":0.96,"b":0.87},{"g":1162,"t":0.96,"b":0.885},{"g":1170,"t":0.96,"b":0.895},{"g":1178,"t":0.96,"b":0.875},{"g":1188,"t":0.96,"b":0.885},{"g":1222,"t":0.96,"b":0.885},{"g":1230,"t":0.95,"b":0.91},{"g":1238,"t":0.95,"b":0.88},{"g":1260,"t":0.94,"b":0.9},{"g":1270,"t":0.93,"b":0.89},{"g":1280,"t":0.93,"b":0.905},{"g":1296,"t":0.92,"b":0.88},
{"g":1390,"t":0.96,"b":0.92},{"g":1396,"t":0.96,"b":0.9},{"g":1405,"t":0.96,"b":0.885},{"g":1414,"t":0.96,"b":0.9},{"g":1430,"t":0.95,"b":0.88},{"g":1438,"t":0.95,"b":0.895},{"g":1446,"t":0.94,"b":0.875},
{"g":1460,"t":0.96,"b":0.9},{"g":1470,"t":0.96,"b":0.885},{"g":1480,"t":0.96,"b":0.875},{"g":1496,"t":0.96,"b":0.895},{"g":1506,"t":0.96,"b":0.875},{"g":1514,"t":0.96,"b":0.89},{"g":1522,"t":0.96,"b":0.875},{"g":1540,"t":0.95,"b":0.865},{"g":1558,"t":0.94,"b":0.875},{"g":1566,"t":0.93,"b":0.86},{"g":1572,"t":0.93,"b":0.87},{"g":1585,"t":0.9,"b":0.85},
{"g":1596,"t":0.96,"b":0.87},{"g":1608,"t":0.96,"b":0.86},{"g":1620,"t":0.96,"b":0.84},{"g":1640,"t":0.96,"b":0.86},{"g":1648,"t":0.96,"b":0.845},{"g":1658,"t":0.96,"b":0.87},{"g":1668,"t":0.96,"b":0.85},{"g":1694,"t":0.96,"b":0.845},{"g":1714,"t":0.96,"b":0.87},{"g":1722,"t":0.95,"b":0.855},{"g":1730,"t":0.95,"b":0.885},{"g":1742,"t":0.95,"b":0.9},{"g":1758,"t":0.95,"b":0.885},{"g":1768,"t":0.95,"b":0.91},{"g":1782,"t":0.95,"b":0.9},{"g":1800,"t":0.95,"b":0.915},{"g":1810,"t":0.94,"b":0.9},{"g":1820,"t":0.94,"b":0.92},{"g":1840,"t":0.93,"b":0.91},{"g":1858,"t":0.92,"b":0.895},{"g":1880,"t":0.9,"b":0.875},{"g":1896,"t":0.89,"b":0.86},{"g":1906,"t":0.87,"b":0.84},
{"g":1922,"t":0.97,"b":0.9},{"g":1934,"t":0.97,"b":0.92},{"g":1942,"t":0.97,"b":0.87},{"g":1956,"t":0.96,"b":0.925},{"g":1972,"t":0.96,"b":0.93},{"g":1978,"t":0.96,"b":0.92},{"g":1994,"t":0.96,"b":0.925},{"g":2003,"t":0.96,"b":0.93},{"g":2030,"t":0.95,"b":0.925},{"g":2040,"t":0.95,"b":0.935},{"g":2048,"t":0.95,"b":0.93},{"g":2075,"t":0.94,"b":0.925},{"g":2090,"t":0.94,"b":0.93},{"g":2105,"t":0.94,"b":0.92},{"g":2135,"t":0.93,"b":0.91},{"g":2150,"t":0.93,"b":0.92},{"g":2165,"t":0.92,"b":0.905},{"g":2180,"t":0.91,"b":0.895},{"g":2215,"t":0.89,"b":0.88},{"g":2230,"t":0.88,"b":0.87},{"g":2262,"t":0.86,"b":0.85},{"g":2275,"t":0.85,"b":0.84},{"g":2300,"t":0.83,"b":0.815},
{"g":2314,"t":0.97,"b":0.875},{"g":2322,"t":0.97,"b":0.89},{"g":2338,"t":0.97,"b":0.87},{"g":2344,"t":0.97,"b":0.855},{"g":2358,"t":0.97,"b":0.89},{"g":2370,"t":0.97,"b":0.9},{"g":2382,"t":0.97,"b":0.875},{"g":2396,"t":0.97,"b":0.9},{"g":2399,"t":0.97,"b":0.85}],
"merges":[{"g1":18,"g2":2400,"h":1},{"g1":18,"g2":2400,"h":0.997},{"g1":810,"g2":840,"h":0.989},{"g1":840,"g2":890,"h":0.981},{"g1":890,"g2":923,"h":0.973},{"g1":923,"g2":968,"h":0.95},{"g1":968,"g2":1015,"h":0.946},{"g1":1385,"g2":1590,"h":0.99},{"g1":1918,"g2":2310,"h":0.996},{"g1":2270,"g2":2310,"h":0.897},{"g1":395,"g2":528,"h":0.999},{"g1":1590,"g2":1918,"h":0.998}],
"guides":[{"g":110,"h":0.914},{"g":207,"h":0.947},{"g":252,"h":0.934},{"g":348,"h":0.894},{"g":445,"h":0.868},{"g":490,"h":0.861},{"g":586,"h":0.855},{"g":683,"h":0.881},{"g":728,"h":0.914},{"g":824,"h":0.851},{"g":920,"h":0.891},{"g":967,"h":0.676},{"g":1015,"h":0.815},{"g":1060,"h":0.894},{"g":1158,"h":0.894},{"g":1203,"h":0.868},{"g":1253,"h":0.927},{"g":1300,"h":0.884},{"g":1395,"h":0.927},{"g":1442,"h":0.888},{"g":1492,"h":0.901},{"g":1538,"h":0.901},{"g":1632,"h":0.828},{"g":1680,"h":0.901},{"g":1730,"h":0.914},{"g":1776,"h":0.914},{"g":1872,"h":0.868},{"g":1918,"h":0.815},{"g":1967,"h":0.914},{"g":2014,"h":0.927},{"g":2109,"h":0.884},{"g":2155,"h":0.904},{"g":2205,"h":0.888},{"g":2251,"h":0.858},{"g":2347,"h":0.888},{"g":2393,"h":0.815}],
"strip":[{"g1":17,"g2":162,"m":"pink"},{"g1":162,"g2":170,"m":"slate"},{"g1":170,"g2":178,"m":"brown"},{"g1":178,"g2":186,"m":"slate"},{"g1":186,"g2":194,"m":"tan"},{"g1":194,"g2":207,"m":"yellow"},{"g1":207,"g2":214,"m":"olive"},{"g1":214,"g2":226,"m":"yellow"},{"g1":226,"g2":234,"m":"olive"},{"g1":234,"g2":246,"m":"yellow"},{"g1":246,"g2":262,"m":"tan"},{"g1":262,"g2":270,"m":"salmon"},{"g1":270,"g2":282,"m":"tan"},{"g1":282,"g2":293,"m":"salmon"},{"g1":293,"g2":298,"m":"crimson"},{"g1":298,"g2":304,"m":"olive"},{"g1":304,"g2":312,"m":"crimson"},{"g1":312,"g2":396,"m":"magenta"},{"g1":396,"g2":531,"m":"yellow"},
{"g1":531,"g2":548,"m":"slate"},{"g1":548,"g2":565,"m":"violetgrey"},{"g1":565,"g2":572,"m":"dkred"},{"g1":572,"g2":578,"m":"olive"},{"g1":578,"g2":586,"m":"red"},{"g1":586,"g2":592,"m":"dkred"},{"g1":592,"g2":600,"m":"olive"},{"g1":600,"g2":606,"m":"slate"},{"g1":606,"g2":612,"m":"dkgreen"},{"g1":612,"g2":620,"m":"olive"},{"g1":620,"g2":628,"m":"yellow"},{"g1":628,"g2":636,"m":"slate"},{"g1":636,"g2":644,"m":"olive"},{"g1":644,"g2":652,"m":"violetgrey"},{"g1":652,"g2":660,"m":"royal"},{"g1":660,"g2":668,"m":"violetgrey"},{"g1":668,"g2":674,"m":"crimson"},{"g1":674,"g2":680,"m":"plum"},{"g1":680,"g2":686,"m":"crimson"},{"g1":686,"g2":692,"m":"violetgrey"},{"g1":692,"g2":700,"m":"dkviolet"},{"g1":700,"g2":708,"m":"plum"},{"g1":708,"g2":720,"m":"violetgrey"},{"g1":720,"g2":732,"m":"dkviolet"},{"g1":732,"g2":740,"m":"plum"},{"g1":740,"g2":750,"m":"dkviolet"},{"g1":750,"g2":760,"m":"plum"},{"g1":760,"g2":770,"m":"dkviolet"},{"g1":770,"g2":778,"m":"crimson"},{"g1":778,"g2":790,"m":"dkviolet"},{"g1":790,"g2":801,"m":"plum"},
{"g1":801,"g2":845,"m":"salmon"},{"g1":845,"g2":853,"m":"dkviolet"},{"g1":853,"g2":896,"m":"purple"},{"g1":896,"g2":922,"m":"dkviolet"},{"g1":922,"g2":1017,"m":"black"},{"g1":1017,"g2":1068,"m":"purple"},
{"g1":1068,"g2":1076,"m":"dkgreen"},{"g1":1076,"g2":1086,"m":"crimson"},{"g1":1086,"g2":1094,"m":"dkred"},{"g1":1094,"g2":1102,"m":"red"},{"g1":1102,"g2":1110,"m":"dkred"},{"g1":1110,"g2":1116,"m":"olive"},{"g1":1116,"g2":1124,"m":"red"},{"g1":1124,"g2":1130,"m":"dkgreen"},{"g1":1130,"g2":1138,"m":"crimson"},{"g1":1138,"g2":1146,"m":"dkred"},{"g1":1146,"g2":1160,"m":"brown"},{"g1":1160,"g2":1170,"m":"dkred"},{"g1":1170,"g2":1178,"m":"dkgreen"},{"g1":1178,"g2":1186,"m":"brown"},{"g1":1186,"g2":1192,"m":"dkgreen"},{"g1":1192,"g2":1198,"m":"brown"},{"g1":1198,"g2":1204,"m":"dkgreen"},{"g1":1204,"g2":1208,"m":"dkred"},
{"g1":1208,"g2":1394,"m":"brown"},{"g1":1394,"g2":1400,"m":"dkgreen"},{"g1":1400,"g2":1462,"m":"red"},{"g1":1462,"g2":1600,"m":"green"},
{"g1":1600,"g2":1610,"m":"royal"},{"g1":1610,"g2":1620,"m":"slate"},{"g1":1620,"g2":1632,"m":"royal"},{"g1":1632,"g2":1640,"m":"steel"},{"g1":1640,"g2":1650,"m":"royal"},{"g1":1650,"g2":1658,"m":"steel"},{"g1":1658,"g2":1668,"m":"slate"},{"g1":1668,"g2":1680,"m":"royal"},{"g1":1680,"g2":1690,"m":"steel"},{"g1":1690,"g2":1700,"m":"royal"},
{"g1":1700,"g2":1925,"m":"blue"},{"g1":1925,"g2":2323,"m":"turquoise"},{"g1":2323,"g2":2412,"m":"greenyellow"}]
},
"layer":[
{"data":{"values":[{"v":0,"x0":0,"x1":1},{"v":0.2,"x0":0,"x1":1},{"v":0.4,"x0":0,"x1":1},{"v":0.1,"x0":0,"x1":1},{"v":0.3,"x0":0,"x1":1},{"v":0.5,"x0":0,"x1":1}]},
"mark":{"type":"rule","color":"#e8e8e8","strokeWidth":1.6},
"encoding":{"x":{"field":"x0","type":"quantitative","scale":{"domain":[0,1],"range":[108.9,991.7]},"axis":null},"x2":{"field":"x1"},"y":{"field":"v","type":"quantitative","scale":{"domain":[-0.0248,0.558],"range":[322.3,10],"nice":false,"zero":false},"axis":{"orient":"left","offset":-108.9,"domain":false,"values":[0,0.2,0.4],"format":".1f","tickColor":"#333333","tickSize":4,"labelFontSize":13,"labelColor":"#4d4d4d","title":"CIBERSORT Fraction","titleFontSize":16.3,"titleFontWeight":"normal","titleColor":"#000000","titleX":-43,"titleY":167,"titleBaseline":"middle"}}}},
{"encoding":{"x":{"field":"cell","type":"nominal","sort":null,"scale":{"domain":["B cells naive","B cells memory","Plasma cells","T cells CD8","T cells CD4 naive","T cells CD4 memory resting","T cells CD4 memory activated","T cells follicular helper","T cells regulatory (Tregs)","T cells gamma delta","NK cells resting","NK cells activated","Monocytes","Macrophages M0","Macrophages M1","Macrophages M2","Dendritic cells resting","Dendritic cells activated","Mast cells resting","Mast cells activated","Eosinophils","Neutrophils"],"range":[108.9,991.7],"paddingInner":0,"paddingOuter":0.1},
"axis":{"orient":"bottom","offset":-877.7,"domain":false,"tickColor":"#333333","tickSize":4,"labelAngle":-50,"labelAlign":"right","labelBaseline":"top","labelFontSize":14.5,"labelColor":"#4d4d4d","labelLimit":400,"labelOverlap":false,"labelPadding":5,"title":"Gene dendrogram and module colors","titleFontSize":22,"titleFontWeight":"bold","titleColor":"#000000","titleX":542,"titleY":167,"titleAnchor":"middle","titleAlign":"center","titleBaseline":"middle"}}},
"layer":[
{"data":{"name":"cells"},"mark":{"type":"rule","color":"#eeeeee","strokeWidth":1.6},"encoding":{"y":{"datum":-0.0248,"type":"quantitative","scale":{"domain":[-0.0248,0.558],"range":[322.3,10],"nice":false,"zero":false},"axis":null},"y2":{"datum":0.558}}},
{"data":{"name":"boxes"},"mark":{"type":"rule","color":"#111111","strokeWidth":1.6},"encoding":{"xOffset":{"field":"typer","type":"nominal","scale":{"domain":["C","P"],"paddingInner":0,"paddingOuter":0.243}},"y":{"field":"lo","type":"quantitative","axis":null},"y2":{"field":"hi"}}},
{"data":{"name":"boxes"},"mark":{"type":"bar","stroke":"#111111","strokeWidth":1.6},"encoding":{"xOffset":{"field":"typer","type":"nominal"},"y":{"field":"q1","type":"quantitative","axis":null},"y2":{"field":"q3"},"fill":{"field":"typer","type":"nominal","scale":{"domain":["C","P"],"range":["#0073C2","#EFC000"]},"legend":{"orient":"none","legendX":1020,"legendY":126,"title":"Typer","titleFontSize":16,"titleFontWeight":"normal","titleColor":"#000000","titlePadding":10,"labelFontSize":14,"labelColor":"#000000","symbolType":"M-1,-0.75H1V0.75H-1Z M-1,0H1 M0,-0.75V-1.15 M0,0.75V1.15","symbolSize":400,"symbolStrokeColor":"#111111","symbolStrokeWidth":1.5,"symbolOpacity":1,"rowPadding":-2,"labelOffset":13}}}},
{"data":{"name":"boxes"},"mark":{"type":"tick","orient":"horizontal","color":"#111111","size":16,"thickness":2.6,"opacity":1},"encoding":{"xOffset":{"field":"typer","type":"nominal"},"y":{"field":"med","type":"quantitative","axis":null}}},
{"data":{"name":"outliers"},"mark":{"type":"circle","color":"#000000","size":50,"opacity":1},"encoding":{"xOffset":{"field":"typer","type":"nominal"},"y":{"field":"value","type":"quantitative","axis":null}}},
{"data":{"name":"cells"},"mark":{"type":"text","fontSize":17,"color":"#111111","baseline":"alphabetic","align":"center"},"encoding":{"y":{"datum":0.534,"type":"quantitative","axis":null},"text":{"field":"sig"}}},
{"data":{"values":[{"panel":"A"}]},"mark":{"type":"text","fontSize":46,"fontWeight":"bold","align":"left","baseline":"alphabetic","color":"#000000","xOffset":-123},"encoding":{"x":{"datum":"B cells naive"},"y":{"datum":0.4985,"type":"quantitative","axis":null},"text":{"field":"panel"}}}
]},
{"data":{"values":[{"x0":0,"x1":1,"y0":-0.0248,"y1":0.558}]},"mark":{"type":"rect","fillOpacity":0,"stroke":"#7f7f7f","strokeWidth":1.6},"encoding":{"x":{"field":"x0","type":"quantitative","scale":{"domain":[0,1],"range":[108.9,991.7]},"axis":null},"x2":{"field":"x1"},"y":{"field":"y0","type":"quantitative","scale":{"domain":[-0.0248,0.558],"range":[322.3,10],"nice":false,"zero":false},"axis":null},"y2":{"field":"y1"}}},
{"data":{"name":"modules"},"mark":{"type":"rect"},"encoding":{"x":{"datum":0,"type":"quantitative","scale":{"domain":[0,1],"range":[140.5,173.5]},"axis":null},"x2":{"datum":1},"y":{"field":"module","type":"nominal","sort":null,"scale":{"domain":["MEgreenyellow","MEpink","MEmagenta","MEyellow","MEblack","MEblue","MEturquoise","MEpurple","MEsalmon","MEbrown","MEgreen","MEred","MEgrey"],"range":[577.4,1095],"paddingInner":0,"paddingOuter":0},"axis":{"orient":"left","offset":-140.5,"domain":false,"ticks":false,"labelPadding":6,"labelFontSize":19,"labelColor":"#000000","labelLimit":200,"title":null}},"fill":{"field":"module","type":"nominal","scale":{"domain":["MEgreenyellow","MEpink","MEmagenta","MEyellow","MEblack","MEblue","MEturquoise","MEpurple","MEsalmon","MEbrown","MEgreen","MEred","MEgrey"],"range":["#ADFF2F","#FFC0CB","#FF00FF","#FFFF00","#000000","#0000FF","#40E0D0","#A020F0","#FA8072","#A52A2A","#00FF00","#FF0000","#BEBEBE"]},"legend":null}}},
{"encoding":{"x":{"field":"trait","type":"nominal","sort":null,"scale":{"domain":["Monocytes","Macrophages M0","Macrophages M1"],"range":[177.7,991.7],"paddingInner":0,"paddingOuter":0},"axis":{"orient":"bottom","offset":-105,"domain":false,"ticks":false,"labelAngle":-35,"labelAlign":"right","labelBaseline":"top","labelFontSize":18,"labelColor":"#000000","labelPadding":8,"labelOffset":6,"labelLimit":300,"title":null}},"y":{"field":"module","type":"nominal","sort":null,"scale":{"domain":["MEgreenyellow","MEpink","MEmagenta","MEyellow","MEblack","MEblue","MEturquoise","MEpurple","MEsalmon","MEbrown","MEgreen","MEred","MEgrey"],"range":[577.4,1095],"paddingInner":0,"paddingOuter":0},"axis":null}},
"layer":[
{"data":{"name":"heat"},"mark":{"type":"rect"},"encoding":{"fill":{"field":"corr","type":"quantitative","scale":{"domain":[-1,-0.04,0.04,1],"range":["#0A84F0","#FFFFFF","#FFFFFF","#FF3300"],"interpolate":"rgb"},"legend":null}}},
{"data":{"name":"heat"},"mark":{"type":"text","fontSize":9.5,"color":"#111111","lineBreak":"\n","lineHeight":9.5},"encoding":{"text":{"field":"label"}}},
{"data":{"values":[{"title":"Module−trait relationships"}]},"mark":{"type":"text","fontSize":22,"fontWeight":"bold","color":"#000000","xOffset":28,"yOffset":-47},"encoding":{"x":{"datum":"Macrophages M0"},"y":{"datum":"MEgreenyellow"},"text":{"field":"title"}}},
{"data":{"values":[{"panel":"B"}]},"mark":{"type":"text","fontSize":48,"fontWeight":"bold","align":"left","baseline":"alphabetic","color":"#000000","xOffset":-301,"yOffset":-52},"encoding":{"x":{"datum":"Monocytes"},"y":{"datum":"MEgreenyellow"},"text":{"field":"panel"}}}
]},
{"data":{"values":[{"x0":0,"x1":1,"y0":0,"y1":1}]},"mark":{"type":"rect","fillOpacity":0,"stroke":"#666666","strokeWidth":1.6},"encoding":{"x":{"field":"x0","type":"quantitative","scale":{"domain":[0,1],"range":[177.7,991.7]},"axis":null},"x2":{"field":"x1"},"y":{"field":"y0","type":"quantitative","scale":{"domain":[0,1],"range":[1095,577.4]},"axis":null},"y2":{"field":"y1"}}},
{"data":{"name":"bar"},"mark":{"type":"rect"},"encoding":{"x":{"datum":0,"type":"quantitative","scale":{"domain":[0,1],"range":[1002,1017]},"axis":null},"x2":{"datum":1},"y":{"field":"lo","type":"quantitative","scale":{"domain":[-1,1],"range":[1021,651],"nice":false},"axis":{"orient":"right","offset":-1033,"values":[-1,-0.5,0,0.5,1],"labelExpr":"replace(''+datum.value,'-','−')","domain":false,"tickColor":"#222222","tickSize":10,"labelAngle":-90,"labelFontSize":17,"labelColor":"#000000","labelPadding":6,"title":null}},"y2":{"field":"hi"},"fill":{"field":"lo","type":"quantitative","scale":{"domain":[-1,0,1],"range":["#0A84F0","#FFFFFF","#FF3300"],"interpolate":"rgb"},"legend":null}}},
{"data":{"values":[{"y0":-1,"y1":1}]},"mark":{"type":"rect","fillOpacity":0,"stroke":"#333333","strokeWidth":1},"encoding":{"x":{"datum":0,"type":"quantitative","scale":{"domain":[0,1],"range":[1002,1017]},"axis":null},"x2":{"datum":1},"y":{"field":"y0","type":"quantitative","scale":{"domain":[-1,1],"range":[1021,651],"nice":false},"axis":null},"y2":{"field":"y1"}}},
{"data":{"name":"guides"},"mark":{"type":"rule","color":"#777777","strokeWidth":1.3,"strokeDash":[1.5,3]},"encoding":{"x":{"field":"g","type":"quantitative","scale":{"domain":[17,2400],"range":[1246,2040],"nice":false,"zero":false},"axis":null},"y":{"field":"h","type":"quantitative","scale":{"domain":[0.116,1],"range":[1021.5,576.5],"nice":false,"zero":false},"axis":{"orient":"left","offset":-1214,"values":[0.2,0.4,0.6,0.8,1],"format":".1f","domainColor":"#333333","tickColor":"#333333","tickSize":11,"labelAngle":-90,"labelFontSize":18,"labelColor":"#111111","labelPadding":8,"title":"Height","titleFontSize":17,"titleFontWeight":"normal","titleColor":"#000000","titleX":-76,"titleY":789,"titleBaseline":"middle"}},"y2":{"datum":0.116}}},
{"data":{"name":"clusters"},"mark":{"type":"area","fill":"#000000","orient":"vertical","opacity":1},"encoding":{"x":{"field":"g","type":"quantitative","scale":{"domain":[17,2400],"range":[1246,2040],"nice":false,"zero":false},"axis":null},"detail":{"field":"c","type":"nominal"},"y":{"field":"t","type":"quantitative","scale":{"domain":[0.116,1],"range":[1021.5,576.5],"nice":false,"zero":false},"axis":null},"y2":{"field":"b"}}},
{"encoding":{"x":{"field":"g","type":"quantitative","scale":{"domain":[17,2400],"range":[1246,2040],"nice":false,"zero":false},"axis":null}},"layer":[
{"data":{"name":"tails"},"mark":{"type":"line","color":"#000000","strokeWidth":3,"opacity":1},"encoding":{"detail":{"field":"c"},"y":{"field":"h","type":"quantitative","scale":{"domain":[0.116,1],"range":[1021.5,576.5],"nice":false,"zero":false},"axis":null},"order":{"field":"g"}}},
{"data":{"name":"spikes"},"mark":{"type":"rule","color":"#1a1a1a","strokeWidth":1.3},"encoding":{"y":{"field":"t","type":"quantitative","axis":null},"y2":{"field":"b"}}},
{"data":{"name":"merges"},"mark":{"type":"rule","color":"#222222","strokeWidth":1.2},"encoding":{"x":{"field":"g1","type":"quantitative"},"x2":{"field":"g2"},"y":{"field":"h","type":"quantitative","axis":null}}}
]},
{"data":{"values":[{"panel":"C","g":17,"h":1}]},"mark":{"type":"text","fontSize":48,"fontWeight":"bold","align":"left","baseline":"alphabetic","fill":"#000000","xOffset":-118,"yOffset":-30},"encoding":{"x":{"field":"g","type":"quantitative","scale":{"domain":[17,2400],"range":[1246,2040],"nice":false,"zero":false},"axis":null},"y":{"field":"h","type":"quantitative","scale":{"domain":[0.116,1],"range":[1021.5,576.5],"nice":false,"zero":false},"axis":null},"text":{"field":"panel"}}},
{"data":{"values":[{"title":"Gene dendrogram and module colors","g":1200,"h":1}]},"mark":{"type":"text","fontSize":21.2,"fontWeight":"bold","fill":"#000000","yOffset":-49.5},"encoding":{"x":{"field":"g","type":"quantitative","scale":{"domain":[17,2400],"range":[1246,2040],"nice":false,"zero":false},"axis":null},"y":{"field":"h","type":"quantitative","scale":{"domain":[0.116,1],"range":[1021.5,576.5],"nice":false,"zero":false},"axis":null},"text":{"field":"title"}}},
{"encoding":{"y":{"datum":0,"type":"quantitative","scale":{"domain":[0,1],"range":[1127,1025],"nice":false},"axis":null},"x":{"field":"g1","type":"quantitative","scale":{"domain":[17,2412],"range":[1246,2040],"nice":false,"zero":false},"axis":null}},"layer":[
{"data":{"name":"strip"},"mark":{"type":"rect"},"encoding":{"x2":{"field":"g2"},"y2":{"datum":1},"fill":{"field":"m","type":"nominal","scale":{"domain":["pink","slate","brown","tan","yellow","olive","salmon","crimson","magenta","violetgrey","dkred","red","dkgreen","royal","plum","dkviolet","purple","black","green","steel","blue","turquoise","greenyellow"],"range":["#FFC0CB","#6F6A80","#A52A2A","#C98A55","#FFFF00","#A8A830","#FA8072","#C02060","#FF00FF","#6A5A90","#8A2828","#FF0000","#5F8A28","#4A68C8","#8A3A90","#5A1A80","#A020F0","#000000","#00FF00","#6088C0","#0000FF","#40E0D0","#ADFF2F"]},"legend":null}}},
{"data":{"values":[{"g1":17,"g2":2412,"edge":0},{"g1":17,"g2":2412,"edge":1}]},"mark":{"type":"rule","color":"#444444","strokeWidth":1.6},"encoding":{"x2":{"field":"g2"},"y":{"field":"edge","type":"quantitative"}}},
{"data":{"values":[{"label":"Dynamic Tree Cut","g1":17}]},"mark":{"type":"text","fontSize":15,"color":"#111111","align":"right","xOffset":-9.5},"encoding":{"y":{"datum":0.49,"type":"quantitative"},"text":{"field":"label"}}}
]},
{"data":{"values":[{"g1":0,"g2":1,"edge":0}]},"mark":{"type":"rule","color":"#e8e8e8","strokeWidth":1.5},"encoding":{"x":{"field":"g1","type":"quantitative","scale":{"domain":[0,1],"range":[1115,2050]},"axis":null},"x2":{"field":"g2"},"y":{"field":"edge","type":"quantitative","scale":{"domain":[0,1],"range":[1153,1100]},"axis":null}}},
{"data":{"values":[{"g1":0,"y0":0,"y1":1}]},"mark":{"type":"rule","color":"#f2f2f2","strokeWidth":1},"encoding":{"x":{"field":"g1","type":"quantitative","scale":{"domain":[0,1],"range":[1085,1100]},"axis":null},"y":{"field":"y0","type":"quantitative","scale":{"domain":[0,1],"range":[510,0]},"axis":null},"y2":{"field":"y1"}}}
],
"resolve":{"scale":{"x":"independent","y":"independent","fill":"independent"},"axis":{"x":"independent","y":"independent"},"legend":{"fill":"independent"}}}
